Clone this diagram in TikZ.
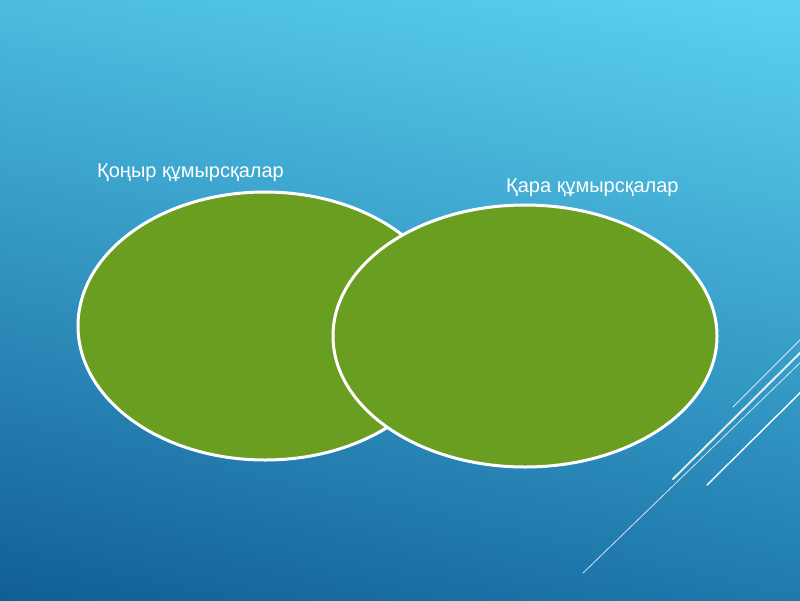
\documentclass[tikz,border=0pt]{standalone}
\usepackage{fontspec}
\setmainfont{Liberation Sans}
\usetikzlibrary{shadings,shapes.geometric}
\definecolor{leaf}{HTML}{6A9E21}
\definecolor{tl}{HTML}{4BBCE0}
\definecolor{tr}{HTML}{5CD2F0}
\definecolor{bl}{HTML}{115E96}
\definecolor{br}{HTML}{1F7AAE}
\begin{document}
\begin{tikzpicture}[x=1pt,y=-1pt,
  blob/.style={draw=white,line width=3pt,fill=leaf},
  lbl/.style={text=white,font=\fontsize{20}{24}\selectfont,inner sep=0pt},
  deco/.style={draw=white,line cap=round}]
\shade[upper left=tl,upper right=tr,lower left=bl,lower right=br] (0,0) rectangle (800,600);
\useasboundingbox (0,0) rectangle (800,600);
\node[blob,ellipse,minimum width=374pt,minimum height=268pt,inner sep=0pt] (e1) at (265,326) {};
\node[blob,ellipse,minimum width=384pt,minimum height=262pt,inner sep=0pt] (e2) at (525,336) {};
\node[lbl,anchor=west] (t1) at (97,173) {Қоңыр құмырсқалар};
\node[lbl,anchor=west] (t2) at (506,188) {Қара құмырсқалар};
\coordinate (a1) at (733,407); \coordinate (a2) at (805,335);
\coordinate (b1) at (673,479); \coordinate (b2) at (805,348);
\coordinate (c1) at (583,573); \coordinate (c2) at (805,358);
\coordinate (d1) at (707,485); \coordinate (d2) at (805,388);
\draw[deco,line width=0.8pt,opacity=0.8] (a1) -- (a2);
\draw[deco,line width=2.2pt,opacity=0.6] (b1) -- (b2);
\draw[deco,line width=0.8pt] (b1) -- (b2);
\draw[deco,line width=0.8pt,opacity=0.8] (c1) -- (c2);
\draw[deco,line width=1.4pt] (d1) -- (d2);
\end{tikzpicture}
\end{document}
